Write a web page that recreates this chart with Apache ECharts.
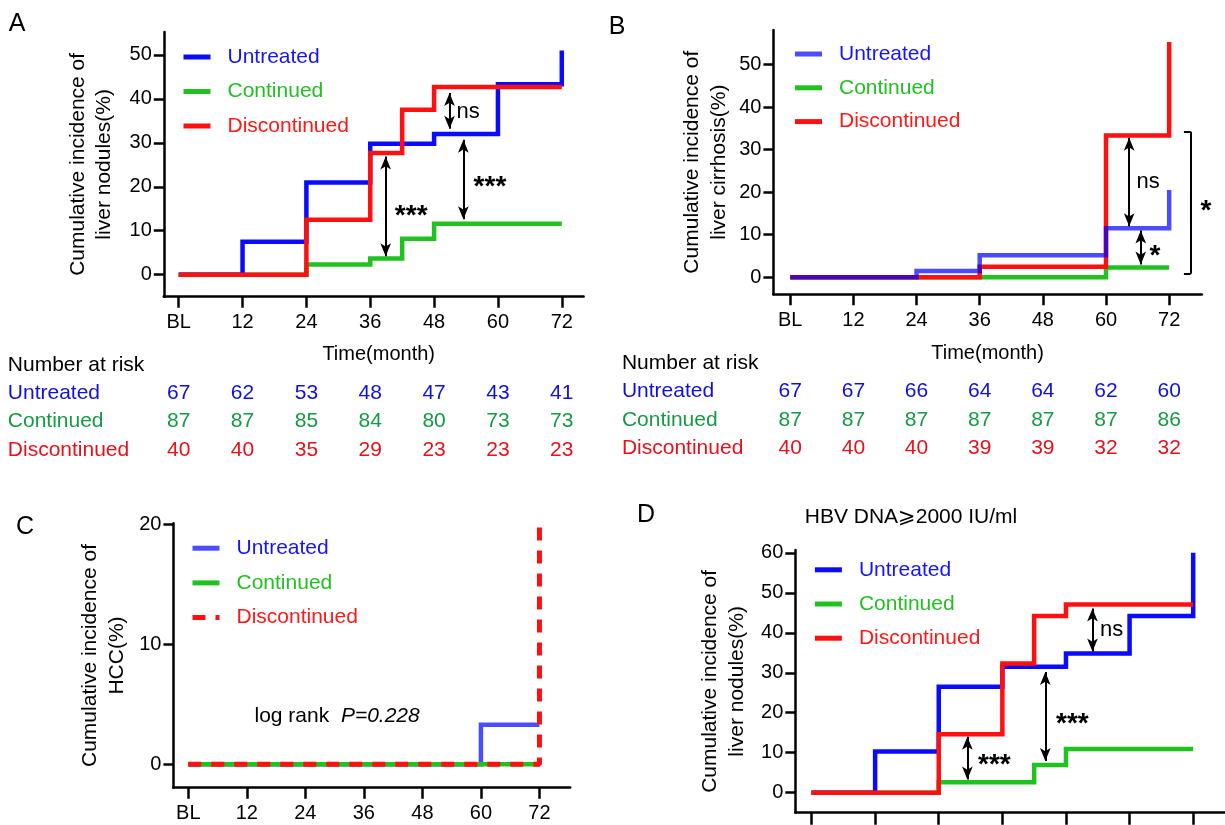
<!DOCTYPE html>
<html>
<head>
<meta charset="utf-8">
<title>Cumulative incidence by treatment group</title>
<script src="https://cdn.jsdelivr.net/npm/echarts@6/dist/echarts.min.js"></script>
<style>
  html, body { margin: 0; padding: 0; background: #fff; }
  #chart { width: 1225px; height: 825px; }
</style>
</head>
<body>
<div id="chart"></div>
<script>
// time points in months, BL = 0
const months = [0, 12, 24, 36, 48, 60, 72];
const groups = ['Untreated', 'Continued', 'Discontinued'];

// A: liver nodules, [month, cumulative %]
const nodulesUntreated = [[0, 0], [12, 7.5], [24, 21], [36, 29.8], [48, 32], [60, 43.3], [72, 51]];
const nodulesContinued = [[0, 0], [24, 2.3], [36, 3.7], [42, 8.2], [48, 11.6], [72, 11.6]];
const nodulesDiscontinued = [[0, 0], [24, 12.5], [36, 27.7], [42, 37.5], [48, 42.7], [72, 42.7]];

// B: liver cirrhosis
const cirrhosisUntreated = [[0, 0], [24, 1.5], [36, 5.2], [60, 11.5], [72, 20.5]];
const cirrhosisContinued = [[0, 0], [60, 2.3], [72, 2.3]];
const cirrhosisDiscontinued = [[0, 0], [36, 2.5], [60, 33.3], [72, 55.3]];

// C: HCC
const hccUntreated = [[0, 0], [60, 3.3], [72, 3.3]];
const hccContinued = [[0, 0], [72, 0]];
const hccDiscontinued = [[0, 0], [72, 0], [72, 20]];

// D: liver nodules, HBV DNA >= 2000 IU/ml
const hbvUntreated = [[0, 0], [12, 10.3], [24, 26.5], [36, 31.5], [48, 34.8], [60, 44.2], [72, 60]];
const hbvContinued = [[0, 0], [24, 2.6], [42, 6.9], [48, 10.9], [72, 10.9]];
const hbvDiscontinued = [[0, 0], [24, 14.6], [36, 32.3], [42, 44.2], [48, 47.1], [72, 47.1]];

// number at risk
const riskNodulesUntreated = [67, 62, 53, 48, 47, 43, 41];
const riskNodulesContinued = [87, 87, 85, 84, 80, 73, 73];
const riskNodulesDiscontinued = [40, 40, 35, 29, 23, 23, 23];
const riskCirrhosisUntreated = [67, 67, 66, 64, 64, 62, 60];
const riskCirrhosisContinued = [87, 87, 87, 87, 87, 87, 86];
const riskCirrhosisDiscontinued = [40, 40, 40, 39, 39, 32, 32];

const FONT = "'Liberation Sans', Arial, sans-serif";
const BLUE = '#0a0aff', PALE_BLUE = 'rgba(0,0,255,0.7)', GREEN = '#1fc21f', RED = '#ff1010';
const legendColors = ['#1414ff', '#22c022', '#ff1818'];
const tableColors = ['#000', '#1010dc', '#159a44', '#e8101a'];

function xAxisFor(i, min, max, extra) {
  return Object.assign({
    type: 'value', gridIndex: i, min: min, max: max,
    axisLine: { show: true, onZero: false, lineStyle: { color: '#000', width: 2.5 } },
    axisTick: { show: true, customValues: months, length: 11, lineStyle: { color: '#000', width: 2.5 } },
    axisLabel: {
      customValues: months, margin: 16, fontSize: 20, color: '#000', fontFamily: FONT,
      formatter: function (v) { return v === 0 ? 'BL' : String(v); }
    },
    splitLine: { show: false }
  }, extra || {});
}

function yAxisFor(i, min, max, ticks, name, gap) {
  return {
    type: 'value', gridIndex: i, min: min, max: max,
    name: name, nameLocation: 'middle', nameRotate: 90, nameGap: gap, nameMoveOverlap: false,
    nameTextStyle: { fontSize: 21, lineHeight: 26.5, color: '#000', fontFamily: FONT },
    axisLine: { show: true, onZero: false, lineStyle: { color: '#000', width: 2.5 } },
    axisTick: { show: true, customValues: ticks, length: 10, lineStyle: { color: '#000', width: 2.5 } },
    axisLabel: { customValues: ticks, margin: 12, fontSize: 20, color: '#000', fontFamily: FONT },
    splitLine: { show: false }
  };
}

function stepLine(panel, group, i, data, color, extra) {
  return Object.assign({
    name: panel + '|' + group, type: 'line', xAxisIndex: i, yAxisIndex: i,
    data: data, step: 'end', symbol: 'none', silent: true,
    lineStyle: { color: color, width: 4.5, join: 'miter' },
    itemStyle: { color: color }
  }, extra || {});
}

function legendFor(panel, left, top, gap) {
  return {
    orient: 'vertical', left: left, top: top, padding: 0,
    itemWidth: 27, itemHeight: 5, itemGap: gap, selectedMode: false,
    lineStyle: { width: 5 },
    itemStyle: { opacity: 0, borderWidth: 0 },
    formatter: function (n) { return n.split('|')[1]; },
    textStyle: { fontSize: 21, lineHeight: 21, fontFamily: FONT, padding: [0, 0, 0, 12] },
    data: groups.map(function (g, k) {
      return { name: panel + '|' + g, textStyle: { color: legendColors[k] } };
    })
  };
}

// text marks + double arrows drawn in data coordinates (arrow tips sit on the given values)
function notes(i, labels, arrows, extraLines) {
  const lines = arrows.map(function (a) {
    return [{ coord: [a[0], a[1]] }, { coord: [a[0], a[2]] }];
  }).concat(extraLines || []);
  return {
    type: 'scatter', xAxisIndex: i, yAxisIndex: i, symbolSize: 1, clip: false, silent: true, z: 5,
    itemStyle: { color: 'rgba(0,0,0,0)', opacity: 1 },
    data: labels.map(function (l) {
      return {
        value: [l.x, l.y],
        label: {
          show: true, position: 'inside', formatter: l.text, color: '#000', fontFamily: FONT,
          fontSize: l.size || 21, fontWeight: l.bold ? 'bold' : 'normal'
        }
      };
    }),
    markLine: {
      silent: true, animation: false, symbol: ['arrow', 'arrow'], symbolSize: [8, 13],
      label: { show: false }, emphasis: { disabled: true },
      lineStyle: { color: '#000', width: 2, type: 'solid', opacity: 1 },
      data: lines
    }
  };
}

function riskSeries(i, group, values, color) {
  return {
    type: 'scatter', xAxisIndex: i, yAxisIndex: i, symbolSize: 1, silent: true,
    itemStyle: { color: 'rgba(0,0,0,0)', opacity: 1 },
    data: months.map(function (m, k) { return [m, group, values[k]]; }),
    label: {
      show: true, position: 'inside', fontSize: 21, fontFamily: FONT, color: color,
      formatter: function (p) { return String(p.value[2]); }
    }
  };
}

function tableYAxis(i, margin) {
  return {
    type: 'category', gridIndex: i, inverse: true,
    data: ['Number at risk'].concat(groups),
    axisLine: { show: false }, axisTick: { show: false }, splitLine: { show: false },
    axisLabel: {
      align: 'left', margin: margin, fontSize: 21, fontFamily: FONT,
      color: function (v, k) { return tableColors[k]; }
    }
  };
}

const gridBase = { containLabel: false, outerBoundsMode: 'none' };
const bracketB = [
  [{ coord: [74.8, 34.2], symbol: 'none' }, { coord: [76.1, 34.2], symbol: 'none' }],
  [{ coord: [76.1, 34.2], symbol: 'none' }, { coord: [76.1, 0.8], symbol: 'none' }],
  [{ coord: [74.8, 0.8], symbol: 'none' }, { coord: [76.1, 0.8], symbol: 'none' }]
];

const chart = echarts.init(document.getElementById('chart'), null, { renderer: 'canvas' });

chart.setOption({
  animation: false,
  backgroundColor: '#fff',
  textStyle: { fontFamily: FONT },
  grid: [
    Object.assign({ left: 163.8, top: 32, width: 419.8, height: 264.7 }, gridBase),
    Object.assign({ left: 773.4, top: 30, width: 428.4, height: 264.3 }, gridBase),
    Object.assign({ left: 173.4, top: 523.3, width: 396.8, height: 264.4 }, gridBase),
    Object.assign({ left: 795.3, top: 550, width: 429.7, height: 262.7 }, gridBase),
    Object.assign({ left: 163.8, top: 350.8, width: 419.8, height: 113.4 }, gridBase),
    Object.assign({ left: 773.4, top: 349.1, width: 428.4, height: 113.3 }, gridBase)
  ],
  xAxis: [
    xAxisFor(0, -2.8, 76.1, {
      name: 'Time(month)', nameLocation: 'middle', nameGap: 48,
      nameTextStyle: { fontSize: 20, color: '#000', fontFamily: FONT, padding: [0, 0, 0, 10] }
    }),
    xAxisFor(1, -3.2, 78.2, {
      name: 'Time(month)', nameLocation: 'middle', nameGap: 49,
      nameTextStyle: { fontSize: 20, color: '#000', fontFamily: FONT }
    }),
    xAxisFor(2, -3.05, 78.3),
    xAxisFor(3, -3.06, 78.0, { axisLabel: { show: false }, axisTick: { show: true, customValues: months, length: 12, lineStyle: { color: '#000', width: 2.5 } } }),
    { type: 'value', gridIndex: 4, min: -2.8, max: 76.1, show: false },
    { type: 'value', gridIndex: 5, min: -3.2, max: 78.2, show: false }
  ],
  yAxis: [
    yAxisFor(0, -5, 55.2, [0, 10, 20, 30, 40, 50], 'Cumulative incidence of\nliver nodules(%)', 46),
    yAxisFor(1, -4, 58.1, [0, 10, 20, 30, 40, 50], 'Cumulative incidence of\nliver cirrhosis(%)', 41),
    yAxisFor(2, -1.95, 20.1, [0, 10, 20], 'Cumulative incidence of\nHCC(%)', 43),
    yAxisFor(3, -5, 60.7, [0, 10, 20, 30, 40, 50, 60], 'Cumulative incidence of\nliver nodules(%)', 45),
    tableYAxis(4, 156),
    tableYAxis(5, 151.5)
  ],
  legend: [
    legendFor('A', 181, 46.5, 13.5),
    legendFor('B', 792.5, 43.5, 12.8),
    legendFor('C', 190, 537.7, 13.7),
    legendFor('D', 812.4, 559.3, 13.2)
  ],
  graphic: [
    { type: 'text', x: 17, y: 24, style: { text: 'A', fontSize: 25, fontFamily: FONT, fill: '#000', align: 'center', verticalAlign: 'middle' } },
    { type: 'text', x: 617, y: 27.5, style: { text: 'B', fontSize: 25, fontFamily: FONT, fill: '#000', align: 'center', verticalAlign: 'middle' } },
    { type: 'text', x: 25, y: 527.5, style: { text: 'C', fontSize: 25, fontFamily: FONT, fill: '#000', align: 'center', verticalAlign: 'middle' } },
    { type: 'text', x: 646, y: 515, style: { text: 'D', fontSize: 25, fontFamily: FONT, fill: '#000', align: 'center', verticalAlign: 'middle' } },
    { type: 'text', x: 911, y: 517, style: { text: 'HBV DNA\u2A7E2000 IU/ml', fontSize: 21, fontFamily: FONT + ", 'DejaVu Sans'", fill: '#000', align: 'center', verticalAlign: 'middle' } },
    {
      type: 'text', x: 254.5, y: 716,
      style: {
        text: '{a|log rank  }{b|P=0.228}', fill: '#000', align: 'left', verticalAlign: 'middle',
        rich: {
          a: { fontSize: 21, fontFamily: FONT, fill: '#000' },
          b: { fontSize: 21, fontFamily: FONT, fontStyle: 'italic', fill: '#000' }
        }
      }
    }
  ],
  series: [
    // A
    stepLine('A', 'Continued', 0, nodulesContinued, GREEN),
    stepLine('A', 'Untreated', 0, nodulesUntreated, BLUE),
    stepLine('A', 'Discontinued', 0, nodulesDiscontinued, RED),
    notes(0, [
      { x: 54.4, y: 37.1, text: 'ns', size: 22 },
      { x: 43.7, y: 13.4, text: '***', bold: true, size: 28 },
      { x: 58.5, y: 19.8, text: '***', bold: true, size: 28 }
    ], [[38.9, 26.9, 4.2], [53.5, 30.7, 12.6], [50.9, 41.3, 33.2]]),
    // B
    stepLine('B', 'Continued', 1, cirrhosisContinued, GREEN),
    stepLine('B', 'Discontinued', 1, cirrhosisDiscontinued, RED),
    stepLine('B', 'Untreated', 1, cirrhosisUntreated, PALE_BLUE),
    notes(1, [
      { x: 68, y: 22.5, text: 'ns', size: 22 },
      { x: 69.3, y: 5.0, text: '*', bold: true, size: 28 },
      { x: 79.0, y: 15.6, text: '*', bold: true, size: 28 }
    ], [[64.4, 32.8, 12.0], [66.6, 11.0, 3.0]], bracketB),
    // C
    stepLine('C', 'Untreated', 2, hccUntreated, PALE_BLUE),
    stepLine('C', 'Continued', 2, hccContinued, GREEN),
    stepLine('C', 'Discontinued', 2, hccDiscontinued, RED, {
      lineStyle: { color: RED, width: 5, type: [13, 10] }
    }),
    // D
    stepLine('D', 'Continued', 3, hbvContinued, GREEN),
    stepLine('D', 'Untreated', 3, hbvUntreated, BLUE),
    stepLine('D', 'Discontinued', 3, hbvDiscontinued, RED),
    notes(3, [
      { x: 56.6, y: 40.7, text: 'ns', size: 22 },
      { x: 34.5, y: 6.8, text: '***', bold: true, size: 28 },
      { x: 49.2, y: 17.2, text: '***', bold: true, size: 28 }
    ], [[29.4, 14.0, 3.3], [44.1, 30.2, 7.9], [53, 46.1, 35.3]]),
    // number at risk tables
    riskSeries(4, 'Untreated', riskNodulesUntreated, tableColors[1]),
    riskSeries(4, 'Continued', riskNodulesContinued, tableColors[2]),
    riskSeries(4, 'Discontinued', riskNodulesDiscontinued, tableColors[3]),
    riskSeries(5, 'Untreated', riskCirrhosisUntreated, tableColors[1]),
    riskSeries(5, 'Continued', riskCirrhosisContinued, tableColors[2]),
    riskSeries(5, 'Discontinued', riskCirrhosisDiscontinued, tableColors[3])
  ]
});
</script>
</body>
</html>
